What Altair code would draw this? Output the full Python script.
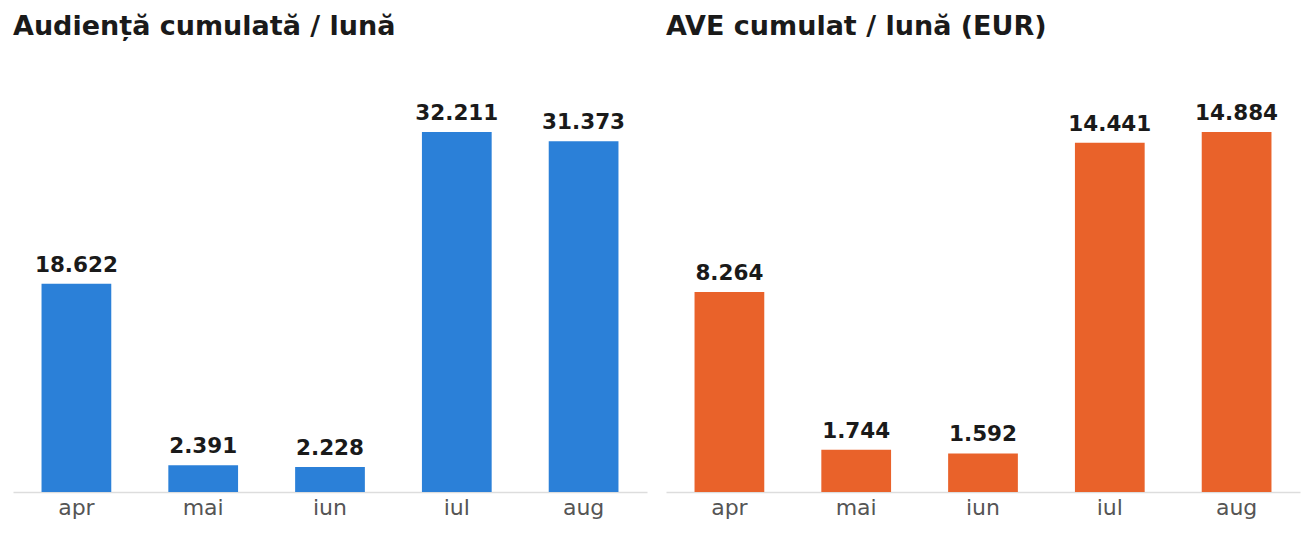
import altair as alt
import pandas as pd

months = ["apr", "mai", "iun", "iul", "aug"]
audienta = [18622, 2391, 2228, 32211, 31373]
ave = [8264, 1744, 1592, 14441, 14884]

title_left = "Audiență cumulată / lună"
title_right = "AVE cumulat / lună (EUR)"

FONT = "DejaVu Sans"
W, H = 634, 444


def panel(values, color, title):
    df = pd.DataFrame({"luna": months, "v": values})
    top = max(values) * 1.2333
    base = alt.Chart(df).encode(
        x=alt.X(
            "luna:N",
            sort=months,
            title=None,
            scale=alt.Scale(paddingInner=0.45, paddingOuter=0.225),
            axis=alt.Axis(
                labelAngle=0,
                labelFont=FONT,
                labelFontSize=22,
                labelColor="#555555",
                labelPadding=5,
                ticks=False,
                domainColor="#dddddd",
                domainWidth=1.5,
                grid=False,
            ),
        ),
        y=alt.Y("v:Q", axis=None, scale=alt.Scale(domain=[0, top], nice=False)),
    )
    bars = base.mark_bar(color=color)
    labels = base.transform_calculate(
        lbl="replace(format(datum.v, ','), ',', '.')"
    ).mark_text(
        baseline="bottom",
        dy=-7,
        font=FONT,
        fontSize=21.5,
        fontWeight="bold",
        color="#1a1a1a",
    ).encode(text="lbl:N")
    return (bars + labels).properties(
        width=W,
        height=H,
        title=alt.TitleParams(
            title,
            anchor="start",
            frame="group",
            font=FONT,
            fontSize=27,
            fontWeight="bold",
            color="#1a1a1a",
            offset=7,
        ),
    )


chart = alt.hconcat(
    panel(audienta, "#2b80d8", title_left),
    panel(ave, "#e9622a", title_right),
    spacing=19,
).configure(background="white").configure_view(stroke=None)

chart.save("out.html", embed_options={"renderer": "svg", "actions": False})
